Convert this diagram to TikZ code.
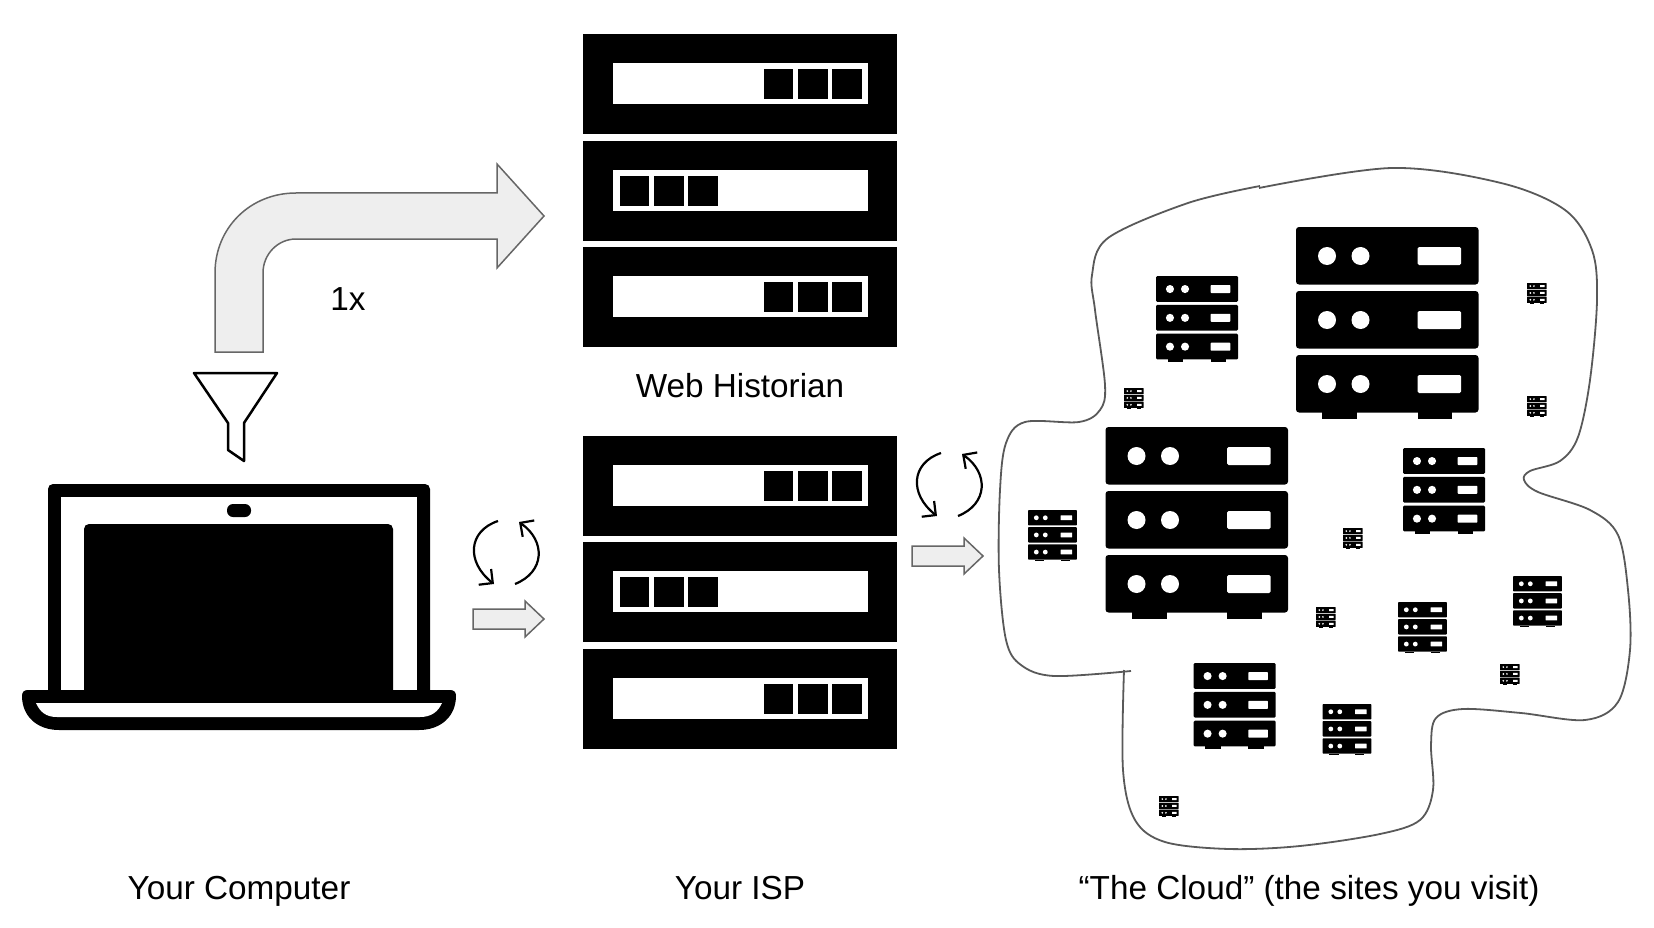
\documentclass[tikz,border=0pt]{standalone}
\usepackage{fontspec}
\setmainfont{Liberation Sans}
\usetikzlibrary{arrows.meta}
\definecolor{arrowfill}{HTML}{EEEEEE}
\definecolor{arrowline}{HTML}{666666}
\tikzstyle{caption} = [anchor=base, inner sep=0pt, font=\fontsize{33.3}{40}\selectfont, text=black]
\tikzstyle{flowarrow} = [draw=arrowline, fill=arrowfill, line width=1.5pt, line join=miter]
\tikzstyle{cyclearrow} = [draw=black, line width=2.2pt, -{Straight Barb[length=10pt,width=20pt,line width=2.2pt]}]
\tikzstyle{cloudline} = [draw=black!65, line width=1.8pt]
\tikzstyle{funnel} = [draw=black, fill=white, line width=2.5pt, line join=round]
\newcommand{\serverstack}[3]{
\begin{scope}[shift={(#1,#2)},scale=#3]
\foreach \r in {0,64,128} {
\fill [rounded corners={#3*3pt}] (0,\r) rectangle +(182.5,57.5);
\fill [white] (31,\r+29) circle (9);
\fill [white] (64.5,\r+29) circle (9);
\fill [white, rounded corners={#3*1.5pt}] (121.6,\r+20) rectangle +(43.4,18);
}
\fill (26,185) rectangle (61,192);
\fill (121.6,185) rectangle (156,192);
\end{scope}
}
\begin{document}
\begin{tikzpicture}[x=1pt,y=-1pt]
\useasboundingbox (0,0) rectangle (1654,928);
% racks
\foreach \ytop/\first in {34/763.5,141/619.5,247/763.5,436/763.5,542/619.5,649/763.5} {
\fill (583,\ytop) rectangle +(314,100);
\fill [white] (613,\ytop+29) rectangle +(255,41);
\foreach \dx in {0,34.5,68.5} {
\fill (\first+\dx,\ytop+35) rectangle +(29.5,30);
}
}
% laptop
\fill [rounded corners=5pt] (48,695) -- (48,484) -- (430,484) -- (430,695) -- cycle;
\fill [white] (61,497) rectangle (417,692);
\fill [rounded corners=5pt] (84,700) -- (84,524) -- (393,524) -- (393,700) -- cycle;
\fill [rounded corners=6pt] (227,504) rectangle (251,517);
\fill (28,690) -- (450,690) .. controls (454,690) and (456,692) .. (456,696) .. controls (456,716) and (441,730) .. (419,730) -- (59,730) .. controls (37,730) and (22,716) .. (22,696) .. controls (22,692) and (24,690) .. (28,690) -- cycle;
\fill [white] (36,703) -- (442,703) .. controls (438,712) and (431,717) .. (420,717) -- (57,717) .. controls (46,717) and (40,712) .. (36,703) -- cycle;
% funnel
\draw [funnel] (194,373) -- (277,373) -- (244,423) -- (244,461) -- (228,450) -- (228,423) -- cycle;
% arrows
\draw [flowarrow] (215,352) -- (215,273) .. controls (215,228) and (250,193) .. (296,193) -- (497,193) -- (497,164) -- (544,216) -- (497,268) -- (497,239) -- (296,239) .. controls (278,239) and (263,254) .. (263,273) -- (263,352) -- cycle;
\foreach \dx/\dy in {0/0,439/-63} {
\begin{scope}[shift={(\dx,\dy)}]
\draw [flowarrow] (473,609) -- (525,609) -- (525,601) -- (544,619) -- (525,637) -- (525,629) -- (473,629) -- cycle;
\end{scope}
}
\foreach \dx/\dy in {0/0,443/-68} {
\begin{scope}[shift={(\dx,\dy)}]
\draw [cyclearrow] (498,521) .. controls (468,531) and (466,562) .. (494,584);
\draw [cyclearrow] (515,584) .. controls (545,572) and (546,541) .. (519,522);
\end{scope}
}
% cloud
\draw [cloudline] plot [smooth, tension=0.55] coordinates {(1259,188) (1392,168) (1501,183) (1565,210) (1592,250) (1597,300) (1590,380) (1578,437) (1560,461) (1530,471) (1524,480) (1538,492) (1590,510) (1618,535) (1628,590) (1630,650) (1618,702) (1585,720) (1521,713) (1463,709) (1436,718) (1431,745) (1433,790) (1420,820) (1380,834) (1300,846) (1229,849) (1165,842) (1135,820) (1123,770) (1124,670)};
\draw [cloudline] plot [smooth, tension=0.55] coordinates {(1131,671) (1054,676) (1021,665) (1006,640) (999,570) (1000,490) (1006,443) (1025,422) (1079,422) (1100,410) (1105,385) (1095,310) (1092,275) (1108,238) (1188,203) (1260,186)};
% servers
\foreach \x/\y/\s in {1296/227/1,1105.5/427/1,1156/276/0.45,1403/448/0.45,1193.6/663/0.45,1028/510/0.268,1513/576/0.268,1398/602/0.268,1322.5/704/0.268,1124/388/0.107,1527/283/0.107,1527/396/0.107,1343/528/0.107,1316/607/0.107,1500/664/0.107,1159/796/0.107} {
\serverstack{\x}{\y}{\s}
}
% labels
\node (once) [caption] at (348,310) {1x};
\node (historian) [caption] at (740,397) {Web Historian};
\node (computer) [caption] at (239,899) {Your Computer};
\node (isp) [caption] at (740,899) {Your ISP};
\node (cloud) [caption] at (1309,899) {“The Cloud” (the sites you visit)};
\end{tikzpicture}
\end{document}
